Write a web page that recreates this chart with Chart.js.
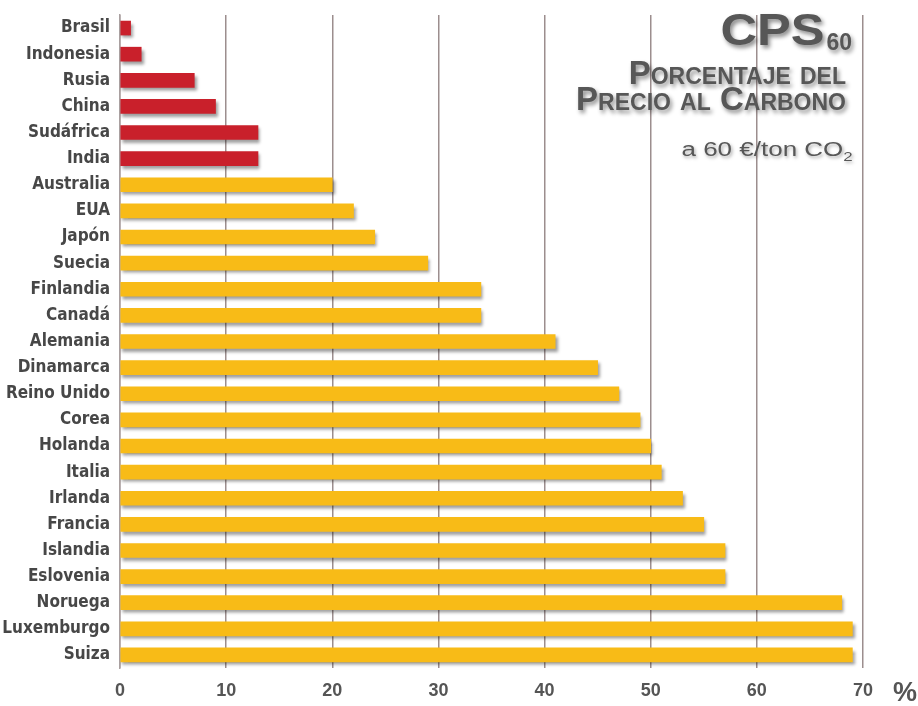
<!DOCTYPE html>
<html lang="es">
<head>
<meta charset="utf-8">
<title>CPS60 – Porcentaje del precio al carbono</title>
<script src="https://cdn.jsdelivr.net/npm/chart.js@4/dist/chart.umd.min.js"></script>
<style>
  html, body { margin: 0; padding: 0; background: #ffffff; }
  #wrap { position: relative; width: 918px; height: 706px; }
  #chart { position: absolute; left: 0; top: 0; }
  .ttl { position: absolute; color: #575757; font-family: "Liberation Sans", Arial, sans-serif;
         text-shadow: 2px 3px 4px rgba(0,0,0,0.45); white-space: nowrap; text-align: right; }
  .wide { display: inline-block; transform-origin: right center; }
  #t1 { top: 5px; right: 66px; font-size: 44px; font-weight: bold; line-height: 50px; }
  #t1 .wide { transform: scaleX(1.15); }
  #t1 sub { font-size: 23px; vertical-align: -5px; margin-left: 2px; }
  #t2 { top: 60px; right: 72px; font-size: 33px; font-weight: bold; font-variant: small-caps; line-height: 26px; }
  #t3 { top: 137px; right: 65px; font-size: 20px; line-height: 24px; text-shadow: 1px 2px 3px rgba(0,0,0,0.35); }
  #t3 .wide { transform: scaleX(1.3); }
  #t3 sub { font-size: 13px; vertical-align: -5px; }
  #pct { position: absolute; left: 893px; top: 677px; font-family: "Liberation Sans Narrow", "Liberation Sans", sans-serif;
         font-weight: bold; font-size: 27px; color: #555; }
</style>
</head>
<body>
<div id="wrap">
  <canvas id="chart" width="918" height="706"></canvas>
  <div class="ttl" id="t1"><span class="wide">CPS</span><sub>60</sub></div>
  <div class="ttl" id="t2">Porcentaje del<br>Precio al Carbono</div>
  <div class="ttl" id="t3"><span class="wide">a 60 €/ton CO<sub>2</sub></span></div>
  <div id="pct">%</div>
</div>
<script>
// Países, de menor a mayor porcentaje
const countries = [
  "Brasil", "Indonesia", "Rusia", "China", "Sudáfrica", "India",
  "Australia", "EUA", "Japón", "Suecia", "Finlandia", "Canadá",
  "Alemania", "Dinamarca", "Reino Unido", "Corea", "Holanda", "Italia",
  "Irlanda", "Francia", "Islandia", "Eslovenia", "Noruega", "Luxemburgo", "Suiza"
];

// Porcentaje del precio al carbono (a 60 €/ton CO2)
const cps60 = [
  1, 2, 7, 9, 13, 13,
  20, 22, 24, 29, 34, 34,
  41, 45, 47, 49, 50, 51,
  53, 55, 57, 57, 68, 69, 69
];

// Economías emergentes (barras rojas)
const emerging = ["Brasil", "Indonesia", "Rusia", "China", "Sudáfrica", "India"];

// Marcas del eje horizontal
const xTicks = [0, 10, 20, 30, 40, 50, 60, 70];

const RED = "#c9202b";
const YELLOW = "#f8bb17";

// Sombra bajo las barras
const barShadow = {
  id: "barShadow",
  beforeDatasetsDraw(chart) {
    const ctx = chart.ctx;
    ctx.save();
    ctx.shadowColor = "rgba(0,0,0,0.38)";
    ctx.shadowOffsetX = 2;
    ctx.shadowOffsetY = 3;
    ctx.shadowBlur = 3;
  },
  afterDatasetsDraw(chart) {
    chart.ctx.restore();
  }
};

new Chart(document.getElementById("chart"), {
  type: "bar",
  data: {
    labels: countries,
    datasets: [{
      data: cps60,
      backgroundColor: (c) => emerging.includes(countries[c.dataIndex]) ? RED : YELLOW,
      borderWidth: 0,
      barThickness: 14
    }]
  },
  options: {
    indexAxis: "y",
    responsive: false,
    animation: false,
    devicePixelRatio: 1,
    layout: { padding: { top: 15, right: 55, bottom: 0, left: 0 } },
    plugins: {
      legend: { display: false },
      tooltip: { enabled: false }
    },
    scales: {
      x: {
        min: 0,
        max: 70,
        afterBuildTicks: (scale) => { scale.ticks = xTicks.map(v => ({ value: v })); },
        afterFit: (scale) => { scale.height = 38; },
        grid: { color: "#9c8e8e", lineWidth: 1.5, drawTicks: false },
        border: { display: false },
        ticks: {
          padding: 12,
          color: "#555555",
          font: { family: "'Liberation Sans Narrow', 'Liberation Sans', sans-serif", weight: "bold", size: 18 }
        }
      },
      y: {
        afterFit: (scale) => { scale.width = 120; },
        grid: { display: false },
        border: { display: true, color: "#a9a0a0", width: 1.5 },
        ticks: {
          padding: 2,
          autoSkip: false,
          color: "#474747",
          font: { family: "'DejaVu Sans Condensed', 'DejaVu Sans', sans-serif", weight: "bold", size: 17 }
        }
      }
    }
  },
  plugins: [barShadow]
});
</script>
</body>
</html>
